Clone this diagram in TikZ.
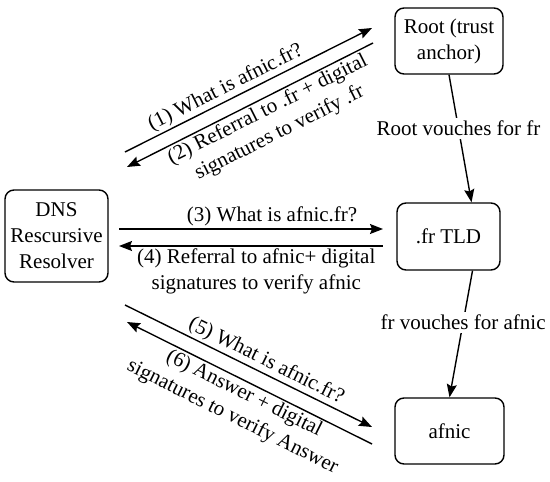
\documentclass[tikz,border=0pt]{standalone}
\usepackage{fontspec}
\setmainfont{Liberation Serif}
\usetikzlibrary{arrows.meta}
\begin{document}
\begin{tikzpicture}[x=1pt,y=-1pt,
  font=\fontsize{21}{26}\selectfont,
  box/.style={draw, line width=1.4pt, rounded corners=9pt, align=center, inner sep=0pt},
  arr/.style={line width=1.4pt, -{Stealth[length=13pt,width=10pt,inset=2pt]}},
  arl/.style={line width=1.4pt, {Stealth[length=13pt,width=10pt,inset=2pt]}-},
  lbl/.style={align=center, inner sep=2pt}]
\useasboundingbox (0,0) rectangle (550,482);
\node[box, minimum width=103pt, minimum height=92pt] (dns) at (56.5,236) {DNS\\Rescursive\\Resolver};
\node[box, minimum width=108pt, minimum height=66pt] (root) at (449,41) {Root (trust\\anchor)};
\node[box, minimum width=103pt, minimum height=67pt] (tld) at (448.5,236.5) {.fr TLD};
\node[box, minimum width=109pt, minimum height=66pt] (afnic) at (449.5,431) {afnic};
% free ends
\coordinate (a1s) at (125,152); \coordinate (a1e) at (372,28);
\coordinate (a2s) at (127,167); \coordinate (a2e) at (373,43);
\coordinate (a3s) at (119,229); \coordinate (a3e) at (383,229);
\coordinate (a4s) at (119,246); \coordinate (a4e) at (383,246);
\coordinate (a5s) at (125,305); \coordinate (a5e) at (372,427);
\coordinate (a6s) at (127,322); \coordinate (a6e) at (372,444);
\draw[arr] (a1s) -- node[lbl, sloped, above, pos=0.43] (l1) {(1) What is afnic.fr?} (a1e);
\draw[arl] (a2s) -- node[lbl, sloped, below, pos=0.55] (l2) {(2) Referral to .fr + digital\\signatures to verify .fr} (a2e);
\draw[arr] (a3s) -- node[lbl, above, pos=0.58] (l3) {(3) What is afnic.fr?} (a3e);
\draw[arl] (a4s) -- node[lbl, below, pos=0.52] (l4) {(4) Referral to afnic+ digital\\signatures to verify afnic} (a4e);
\draw[arr] (a5s) -- node[lbl, sloped, above, pos=0.55] (l5) {(5) What is afnic.fr?} (a5e);
\draw[arl] (a6s) -- node[lbl, sloped, below, pos=0.5] (l6) {(6) Answer + digital\\signatures to verify Answer} (a6e);
\draw[arr] (root.south) -- node[fill=white, inner sep=3pt, pos=0.42] (v1) {Root vouches for fr} ([xshift=23pt]tld.north);
\draw[arr] ([xshift=24pt]tld.south) -- node[fill=white, inner sep=3pt, pos=0.41] (v2) {fr vouches for afnic} (afnic.north);
\end{tikzpicture}
\end{document}
